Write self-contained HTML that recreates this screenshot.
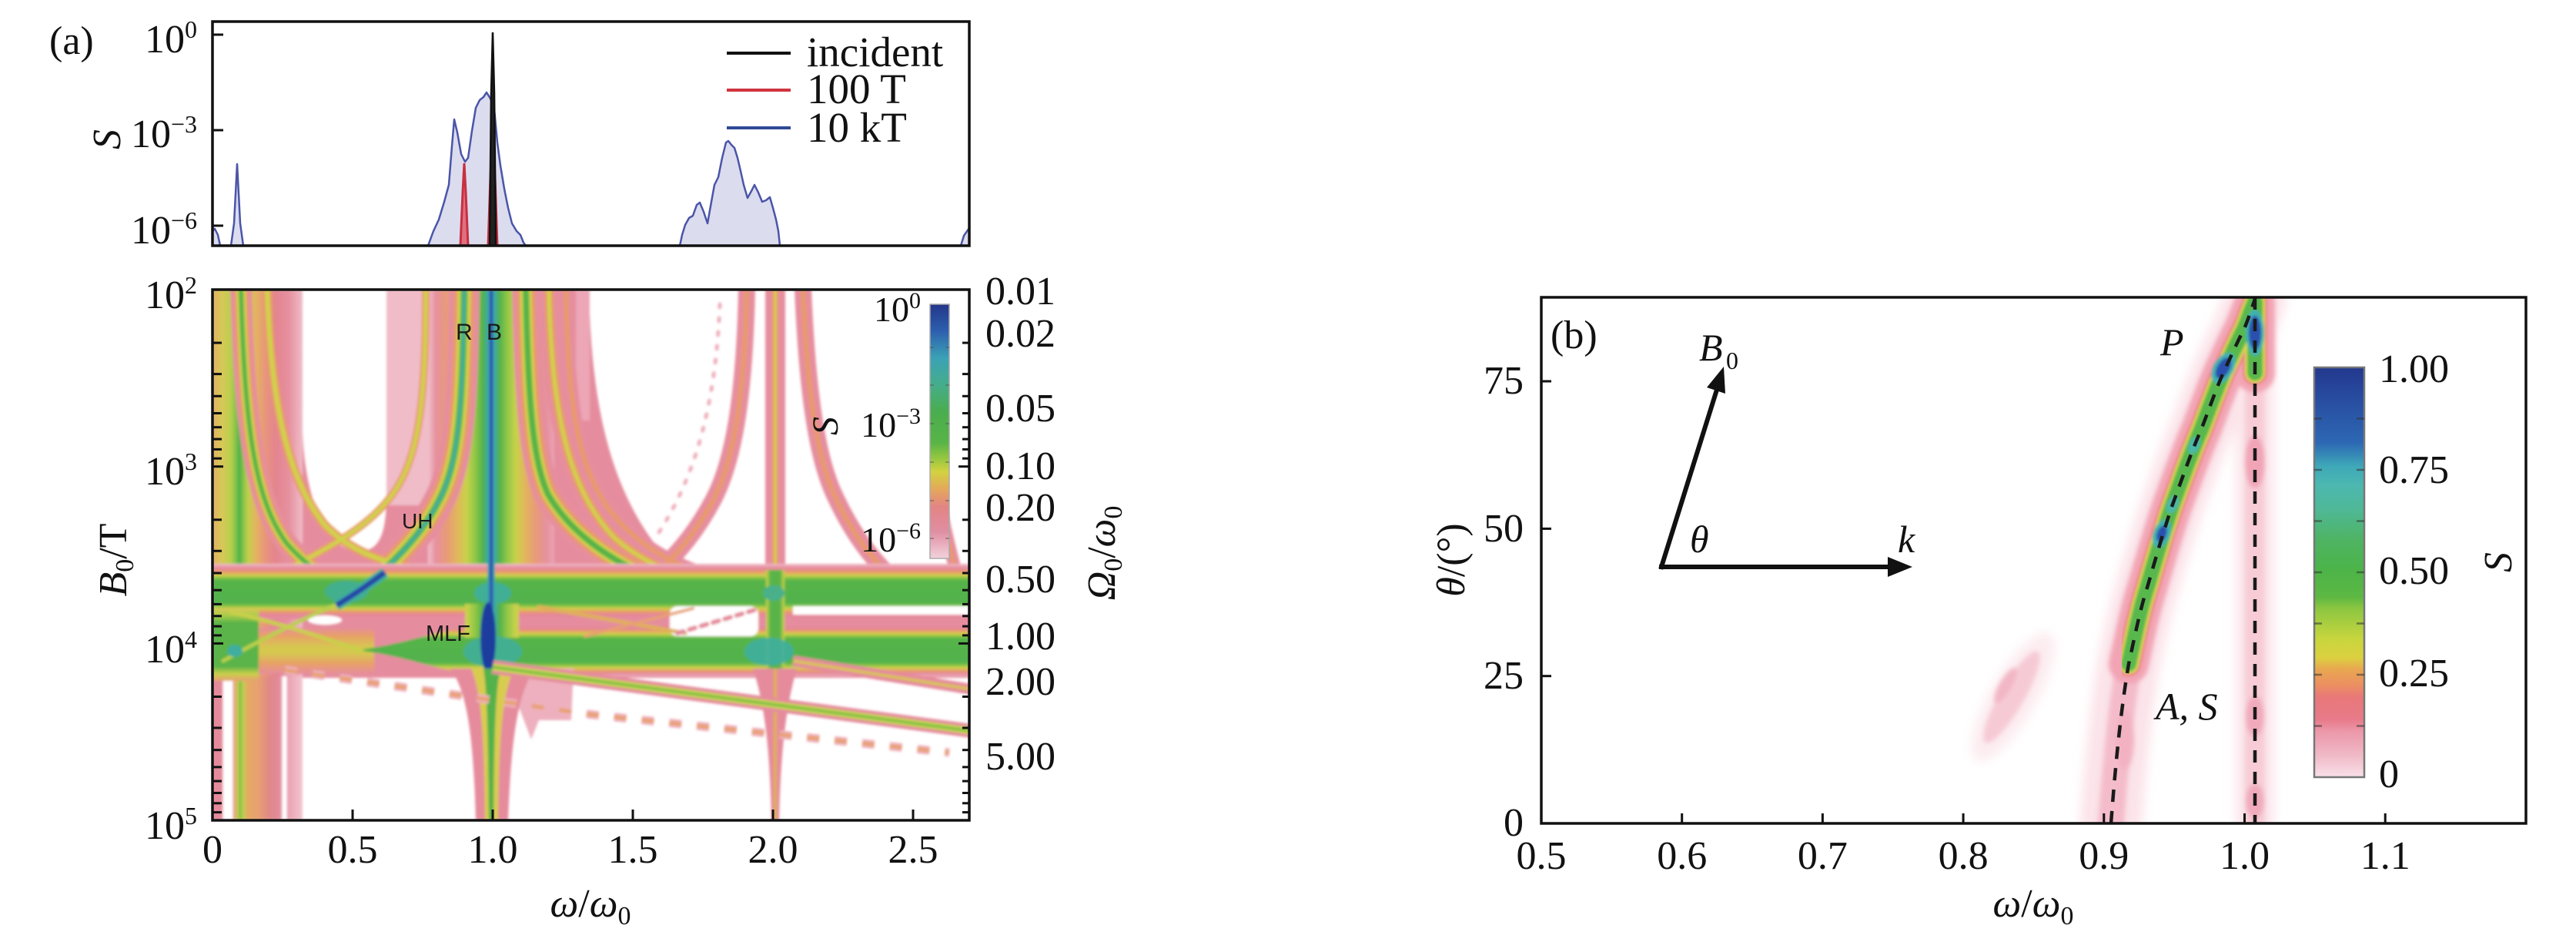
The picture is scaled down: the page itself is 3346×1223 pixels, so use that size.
<!DOCTYPE html>
<html><head><meta charset="utf-8">
<style>
html,body{margin:0;padding:0;background:#fff;width:3346px;height:1223px;overflow:hidden}
svg{display:block}
text{font-family:"Liberation Serif","DejaVu Serif",serif;fill:#111}
.s{font-family:"Liberation Sans","DejaVu Sans",sans-serif;fill:#1a1a1a}
.i{font-style:italic}
</style></head><body>
<svg width="3346" height="1223" viewBox="0 0 3346 1223" xmlns="http://www.w3.org/2000/svg">
<defs>
<clipPath id="ca"><rect x="276" y="376" width="983" height="689"/></clipPath>
<clipPath id="ct"><rect x="276" y="28" width="983" height="291"/></clipPath>
<clipPath id="cb"><rect x="2002" y="386" width="1279" height="683"/></clipPath>
<filter id="bl1" x="-5%" y="-5%" width="110%" height="110%"><feGaussianBlur stdDeviation="1.6"/></filter>
<filter id="bl3" x="-10%" y="-10%" width="120%" height="120%"><feGaussianBlur stdDeviation="3"/></filter>
<filter id="bl6" x="-20%" y="-20%" width="140%" height="140%"><feGaussianBlur stdDeviation="7"/></filter>

<linearGradient id="gLeft" gradientUnits="userSpaceOnUse" x1="276" y1="0" x2="393" y2="0">
<stop offset="0" stop-color="#e2b062"/><stop offset=".103" stop-color="#d8c858"/><stop offset=".205" stop-color="#b8d04c"/><stop offset=".265" stop-color="#7cc048"/><stop offset=".299" stop-color="#4cb04a"/><stop offset=".333" stop-color="#7cc048"/><stop offset=".393" stop-color="#c0d04c"/><stop offset=".479" stop-color="#e4b45e"/><stop offset=".59" stop-color="#e8947c"/><stop offset=".701" stop-color="#e3848f"/><stop offset=".846" stop-color="#e6909f"/><stop offset="1" stop-color="#f0bcc8"/>
</linearGradient>
<linearGradient id="gLeftB" gradientUnits="userSpaceOnUse" x1="276" y1="0" x2="393" y2="0">
<stop offset="0" stop-color="#e48a9a"/><stop offset=".111" stop-color="#e48a9a"/><stop offset=".12" stop-color="#fff"/><stop offset=".222" stop-color="#fff"/><stop offset=".231" stop-color="#e8909c"/><stop offset=".256" stop-color="#e0b860"/><stop offset=".291" stop-color="#b8cc50"/><stop offset=".308" stop-color="#6cbc48"/><stop offset=".333" stop-color="#c0d04c"/><stop offset=".393" stop-color="#e4aa64"/><stop offset=".504" stop-color="#e8a070"/><stop offset=".632" stop-color="#e08888"/><stop offset=".735" stop-color="#e28a9a"/><stop offset=".769" stop-color="#e8a0ae"/><stop offset=".778" stop-color="#fff"/><stop offset=".821" stop-color="#fff"/><stop offset=".829" stop-color="#eaa0b0"/><stop offset="1" stop-color="#f2c6d0"/>
</linearGradient>
<linearGradient id="gOne" gradientUnits="userSpaceOnUse" x1="556" y1="0" x2="720" y2="0">
<stop offset="0" stop-color="#f0c0cb"/><stop offset=".061" stop-color="#e6909f"/><stop offset=".146" stop-color="#e89a78"/><stop offset=".238" stop-color="#e0b85a"/><stop offset=".305" stop-color="#c8d24a"/><stop offset=".378" stop-color="#8cc646"/><stop offset=".433" stop-color="#52b24c"/><stop offset=".47" stop-color="#40ac9c"/><stop offset=".5" stop-color="#3a9ab8"/><stop offset=".53" stop-color="#40ac9c"/><stop offset=".567" stop-color="#52b24c"/><stop offset=".622" stop-color="#8cc646"/><stop offset=".695" stop-color="#c8d24a"/><stop offset=".762" stop-color="#e0b85a"/><stop offset=".854" stop-color="#e89a78"/><stop offset=".939" stop-color="#e6909f"/><stop offset="1" stop-color="#eaa4b2"/>
</linearGradient>
<linearGradient id="gH1" gradientUnits="userSpaceOnUse" x1="0" y1="732" x2="0" y2="804">
<stop offset="0" stop-color="#f0bcc8"/><stop offset=".083" stop-color="#e4869a"/><stop offset=".153" stop-color="#e89c68"/><stop offset=".208" stop-color="#d2d24a"/><stop offset=".25" stop-color="#8cc445"/><stop offset=".306" stop-color="#55b44a"/><stop offset=".708" stop-color="#52b24c"/><stop offset=".764" stop-color="#8cc445"/><stop offset=".806" stop-color="#d2d24a"/><stop offset=".861" stop-color="#e89c68"/><stop offset=".917" stop-color="#e4869a"/><stop offset="1" stop-color="#e58d9e"/>
</linearGradient>
<linearGradient id="gH2" gradientUnits="userSpaceOnUse" x1="0" y1="812" x2="0" y2="878">
<stop offset="0" stop-color="#e58d9e"/><stop offset=".061" stop-color="#e4869a"/><stop offset=".106" stop-color="#e89c68"/><stop offset=".167" stop-color="#d2d24a"/><stop offset=".212" stop-color="#8cc445"/><stop offset=".258" stop-color="#55b44a"/><stop offset=".727" stop-color="#52b24c"/><stop offset=".788" stop-color="#8cc445"/><stop offset=".833" stop-color="#d2d24a"/><stop offset=".894" stop-color="#e89c68"/><stop offset=".939" stop-color="#e4869a"/><stop offset="1" stop-color="#eeb0bc"/>
</linearGradient>
<linearGradient id="gH2L" gradientUnits="userSpaceOnUse" x1="0" y1="790" x2="0" y2="884">
<stop offset="0" stop-color="#d8c858"/><stop offset=".1" stop-color="#a8cc48"/><stop offset=".2" stop-color="#5ab44a"/><stop offset=".8" stop-color="#5ab44a"/><stop offset=".9" stop-color="#c8d04a"/><stop offset="1" stop-color="#e8a070"/>
</linearGradient>
<linearGradient id="gH2O" gradientUnits="userSpaceOnUse" x1="0" y1="815" x2="0" y2="875">
<stop offset="0" stop-color="#e58d9e"/><stop offset=".17" stop-color="#e8a068"/><stop offset=".42" stop-color="#d6c850"/><stop offset=".55" stop-color="#d6c850"/><stop offset=".78" stop-color="#e8a068"/><stop offset="1" stop-color="#e58d9e"/>
</linearGradient>
<linearGradient id="gTwo" gradientUnits="userSpaceOnUse" x1="995" y1="0" x2="1019" y2="0">
<stop offset="0" stop-color="#d2d24a"/><stop offset=".25" stop-color="#58b44a"/><stop offset=".75" stop-color="#58b44a"/><stop offset="1" stop-color="#d2d24a"/>
</linearGradient>
<linearGradient id="cbA" gradientUnits="userSpaceOnUse" x1="0" y1="395" x2="0" y2="725">
<stop offset="0" stop-color="#23368a"/><stop offset=".106" stop-color="#2d5fae"/><stop offset=".212" stop-color="#3aa2b6"/><stop offset=".318" stop-color="#45ad8a"/><stop offset=".424" stop-color="#4aad4e"/><stop offset=".545" stop-color="#58b446"/><stop offset=".612" stop-color="#9cc840"/><stop offset=".658" stop-color="#d2d240"/><stop offset=".727" stop-color="#e4a85a"/><stop offset=".797" stop-color="#e38484"/><stop offset=".894" stop-color="#e08ea2"/><stop offset="1" stop-color="#f2d2dc"/>
</linearGradient>
<linearGradient id="cbB" gradientUnits="userSpaceOnUse" x1="0" y1="477" x2="0" y2="1009">
<stop offset="0" stop-color="#22388c"/><stop offset=".045" stop-color="#26449a"/><stop offset=".184" stop-color="#2d68b4"/><stop offset=".241" stop-color="#3ea8b8"/><stop offset=".288" stop-color="#4cb8b0"/><stop offset=".344" stop-color="#4fb898"/><stop offset=".419" stop-color="#4eb464"/><stop offset=".494" stop-color="#4cb448"/><stop offset=".56" stop-color="#5cb843"/><stop offset=".588" stop-color="#8cc640"/><stop offset=".664" stop-color="#c8d63e"/><stop offset=".709" stop-color="#dcd040"/><stop offset=".735" stop-color="#e8a850"/><stop offset=".773" stop-color="#ec9060"/><stop offset=".805" stop-color="#e87878"/><stop offset=".859" stop-color="#e87a8a"/><stop offset=".889" stop-color="#ec98aa"/><stop offset=".945" stop-color="#f0b8c6"/><stop offset="1" stop-color="#f8e0e8"/>
</linearGradient>

<path id="cUH" fill="none" d="M603,376 C601,520 597,600 570,650 C545,700 490,755 437,785"/>
<path id="cM" fill="none" d="M683,376 C686,520 692,600 712,642 C740,690 790,728 860,756"/>
<path id="cL1" fill="none" d="M313,376 C318,560 332,650 372,705 C398,735 425,752 460,770"/>
<path id="cL2" fill="none" d="M347,376 C352,520 372,620 422,682 C452,712 485,726 530,736"/>
<path id="cU1" fill="none" d="M553,376 C553,520 545,600 505,648 C480,680 440,705 380,735"/>
<path id="cR1" fill="none" d="M713,376 C716,540 740,640 800,700 C830,725 860,740 900,752"/>
<path id="cR2" fill="none" d="M735,376 C738,520 748,600 790,660 C820,700 860,725 900,740"/>
<path id="cW2L" fill="none" d="M970,376 C967,520 952,600 927,648 C905,690 880,720 843,754"/>
<path id="cW2R" fill="none" d="M1043,376 C1049,520 1063,600 1085,645 C1105,688 1130,725 1165,756"/>
<path id="cW2C" fill="none" d="M1007,376 L1007,750"/>
<path id="cEdge" fill="none" d="M1222,660 C1235,720 1248,770 1262,808"/>
<path id="cD1" fill="none" d="M640,866 L1007,915 L1262,949"/>
<path id="cD2" fill="none" d="M1030,858 L1262,895"/>

<path id="pb" fill="none" d="M2742,1069 C2748,990 2755,920 2765,862 C2772,830 2780,790 2789,763 C2800,725 2810,690 2822,655 C2835,620 2845,590 2859,558 C2870,530 2880,500 2892,475 C2900,458 2908,440 2915,427 C2920,415 2925,400 2929,388"/>
<path id="pbu" fill="none" d="M2765,862 C2772,830 2780,790 2789,763 C2800,725 2810,690 2822,655 C2835,620 2845,590 2859,558 C2870,530 2880,500 2892,475 C2900,458 2908,440 2915,427 C2920,415 2925,400 2929,392"/>
<path id="prt" fill="none" d="M2929,394 L2929,484"/>
</defs>

<!-- ================= PANEL A : TOP ================= -->
<g clip-path="url(#ct)">
<path d="M276,319 L276,300 L279,297 L283,305 L286,319 L300,319 L304,290 L308,213 L312,290 L316,319 L556,319 L563,300 L570,285 L577,262 L583,240 L587,190 L590,155 L594,172 L599,200 L604,210 L608,205 L613,170 L618,140 L623,130 L628,126 L632,120 L637,128 L642,142 L646,185 L650,215 L655,245 L660,270 L665,290 L671,300 L676,305 L680,315 L683,319 L883,319 L886,305 L890,292 L895,283 L900,280 L905,266 L909,263 L914,275 L919,290 L924,262 L928,240 L933,230 L938,205 L943,185 L946,183 L950,188 L954,192 L958,205 L962,222 L966,240 L971,257 L976,248 L980,240 L985,250 L990,262 L995,260 L1000,256 L1004,270 L1008,285 L1011,300 L1013,319 L1248,319 L1252,306 L1259,296 L1259,319 Z" fill="#dcdcef" stroke="#4a55a8" stroke-width="2.5" stroke-linejoin="round"/>
<path d="M598,319 L601,250 L603,212 L605,250 L608,319 Z" fill="#e07080" stroke="#c83040" stroke-width="3"/>
<path d="M634,319 L637,230 L640,163 L643,230 L646,319 Z" fill="#e07080" stroke="#c83040" stroke-width="3"/>
<path d="M636,319 L638,120 L640,42 L642,120 L644,319 Z" fill="#222" stroke="#111" stroke-width="2.5"/>
</g>
<rect x="276" y="28" width="983" height="291" fill="none" stroke="#111" stroke-width="3.5"/>
<g stroke="#111" stroke-width="3">
<line x1="276" y1="45" x2="290" y2="45"/><line x1="276" y1="169" x2="290" y2="169"/><line x1="276" y1="293" x2="290" y2="293"/>
</g>
<text x="64" y="70" font-size="52">(a)</text>
<text x="256" y="68" font-size="52" text-anchor="end">10<tspan font-size="32" dy="-19">0</tspan></text>
<text x="256" y="191" font-size="52" text-anchor="end">10<tspan font-size="32" dy="-19">−3</tspan></text>
<text x="256" y="316" font-size="52" text-anchor="end">10<tspan font-size="32" dy="-19">−6</tspan></text>
<text transform="translate(156,181) rotate(-90)" font-size="52" text-anchor="middle" class="i">S</text>
<!-- legend -->
<line x1="944" y1="69" x2="1027" y2="69" stroke="#111" stroke-width="4"/>
<line x1="944" y1="117" x2="1027" y2="117" stroke="#d0343f" stroke-width="4"/>
<line x1="944" y1="166" x2="1027" y2="166" stroke="#2f4a96" stroke-width="4"/>
<text x="1048" y="86" font-size="55">incident</text>
<text x="1048" y="134" font-size="55">100 T</text>
<text x="1048" y="184" font-size="55">10 kT</text>

<!-- ================= PANEL A : HEATMAP ================= -->
<g clip-path="url(#ca)"><g filter="url(#bl1)">
<path d="M276,376 L393,376 L393,560 C396,650 425,714 465,716 C495,716 502,690 502,640 L502,376 L765,376 C768,520 790,650 880,740 L1262,740 L1262,880 L276,880 Z" fill="#e58d9e"/>
<rect x="502" y="376" width="58" height="280" fill="#f0bcc8"/>
<rect x="748" y="376" width="18" height="170" fill="#eca6b6"/>
<rect x="276" y="376" width="117" height="504" fill="url(#gLeft)"/>
<rect x="276" y="878" width="117" height="187" fill="url(#gLeftB)"/>
<rect x="556" y="376" width="164" height="380" fill="url(#gOne)"/>
<g fill="none" stroke-linecap="round">
<use href="#cUH" stroke="#e68e9e" stroke-width="40"/>
<use href="#cM" stroke="#e68e9e" stroke-width="36"/>
<use href="#cL1" stroke="#e68e9e" stroke-width="28"/>
<use href="#cR1" stroke="#e68e9e" stroke-width="24"/>
<use href="#cR2" stroke="#e68e9e" stroke-width="18"/>
<use href="#cW2L" stroke="#e68e9e" stroke-width="22"/>
<use href="#cW2R" stroke="#e68e9e" stroke-width="22"/>
<use href="#cW2C" stroke="#e68e9e" stroke-width="26"/>
<use href="#cEdge" stroke="#e68e9e" stroke-width="16"/>
<use href="#cUH" stroke="#e89a6a" stroke-width="26"/>
<use href="#cM" stroke="#e89a6a" stroke-width="24"/>
<use href="#cL1" stroke="#e89a6a" stroke-width="18"/>
<use href="#cL2" stroke="#e89a6a" stroke-width="12"/>
<use href="#cU1" stroke="#e89a6a" stroke-width="10"/>
<use href="#cR1" stroke="#e89a6a" stroke-width="12"/>
<use href="#cR2" stroke="#e89a6a" stroke-width="6"/>
<use href="#cW2L" stroke="#e89a6a" stroke-width="6"/>
<use href="#cW2R" stroke="#e89a6a" stroke-width="6"/>
<use href="#cW2C" stroke="#e89a6a" stroke-width="8"/>
<use href="#cEdge" stroke="#e89a6a" stroke-width="5"/>
<use href="#cUH" stroke="#d0d24a" stroke-width="17"/>
<use href="#cM" stroke="#d0d24a" stroke-width="15"/>
<use href="#cL1" stroke="#d0d24a" stroke-width="12"/>
<use href="#cL2" stroke="#d0d24a" stroke-width="6"/>
<use href="#cU1" stroke="#d0d24a" stroke-width="5"/>
<use href="#cR1" stroke="#d0d24a" stroke-width="5"/>
<use href="#cW2C" stroke="#d0d24a" stroke-width="3"/>
<use href="#cUH" stroke="#56b44a" stroke-width="9"/>
<use href="#cM" stroke="#56b44a" stroke-width="8"/>
<use href="#cL1" stroke="#56b44a" stroke-width="6"/>
<use href="#cUH" stroke="#3fae9e" stroke-width="4"/>
<path d="M935,395 C930,520 905,620 850,700" stroke="#eeb0bc" stroke-width="5" stroke-dasharray="4 14"/>
</g>
<!-- bands -->
<rect x="276" y="732" width="986" height="72" fill="url(#gH1)"/>
<rect x="336" y="815" width="150" height="60" fill="url(#gH2O)"/>
<path d="M462,844 C520,838 570,818 620,812 L1262,812 L1262,878 L620,878 C570,870 520,850 462,844 Z" fill="url(#gH2)"/>
<rect x="276" y="790" width="60" height="94" fill="url(#gH2L)"/>
<rect x="870" y="787" width="115" height="39" rx="10" fill="#fff"/>
<rect x="1030" y="787" width="232" height="11" fill="#fff"/>
<ellipse cx="422" cy="805" rx="22" ry="6" fill="#fff"/>
<g fill="none" stroke-linecap="round">
<path d="M290,858 C340,830 400,800 440,784" stroke="#b8d04c" stroke-width="5"/>
<path d="M300,795 C360,808 420,828 470,845" stroke="#c8d04a" stroke-width="5"/>
<path d="M700,788 L890,822" stroke="#e0b058" stroke-width="5"/>
<path d="M760,826 L900,790" stroke="#e8a070" stroke-width="4"/>
<path d="M880,822 L980,792" stroke="#e58b9c" stroke-width="6" stroke-dasharray="8 8"/>
</g>
<rect x="604" y="784" width="70" height="44" fill="url(#gOne)"/>
<rect x="995" y="740" width="24" height="140" fill="url(#gTwo)"/>
<ellipse cx="450" cy="768" rx="28" ry="14" fill="#3fae9e" opacity=".8"/>
<ellipse cx="640" cy="770" rx="24" ry="14" fill="#3fae9e" opacity=".9"/>
<ellipse cx="1005" cy="770" rx="14" ry="10" fill="#4ab08a"/>
<ellipse cx="999" cy="846" rx="32" ry="18" fill="#3fae9e" opacity=".9"/>
<ellipse cx="305" cy="845" rx="10" ry="8" fill="#3fae9e"/>
<ellipse cx="640" cy="846" rx="38" ry="20" fill="#3fae9e" opacity=".85"/>
<path d="M638,376 L638,820" stroke="#3aa8a8" stroke-width="10"/>
<path d="M638,376 L638,820" stroke="#2d58b2" stroke-width="5"/>
<ellipse cx="634" cy="828" rx="10" ry="46" fill="#1f3c9e"/>
<path d="M500,743 C480,758 460,772 437,786" stroke="#3fae9e" stroke-width="14" fill="none"/>
<path d="M500,743 C480,758 460,772 437,786" stroke="#2646a6" stroke-width="7" fill="none"/>
<!-- below bands -->
<path d="M655,868 L745,868 L742,935 L700,935 L690,960 Z" fill="#eeb0be"/>
<path d="M585,868 L695,868 C672,900 664,960 660,1065 L618,1065 C615,960 608,900 585,868 Z" fill="#e58b9c"/>
<path d="M612,868 L668,868 C652,900 648,960 647,1065 L630,1065 C629,960 626,900 612,868 Z" fill="#d8cc50"/>
<path d="M628,868 L650,868 C643,900 642,960 641,1065 L635,1065 C634,960 633,900 628,868 Z" fill="#52b24c"/>
<path d="M978,868 L1035,868 C1020,920 1014,980 1012,1065 L1002,1065 C1000,980 995,920 978,868 Z" fill="#e58b9c"/>
<path d="M1007,868 L1007,1065" stroke="#e0b050" stroke-width="4"/>
<g fill="none">
<use href="#cD1" stroke="#e58b9c" stroke-width="18"/>
<use href="#cD1" stroke="#c8d44a" stroke-width="9"/>
<use href="#cD1" stroke="#6cbc48" stroke-width="3"/>
<use href="#cD2" stroke="#e58b9c" stroke-width="14"/>
<use href="#cD2" stroke="#d8c450" stroke-width="4"/>
<path d="M370,870 L770,928 L1233,977" stroke="#eeb0bc" stroke-width="11" stroke-dasharray="16 20"/>
<path d="M370,870 L770,928 L1233,977" stroke="#e8a070" stroke-width="5" stroke-dasharray="16 20"/>
</g>
</g>
<text x="592" y="441" font-size="30" class="s">R</text>
<text x="632" y="441" font-size="30" class="s">B</text>
<text x="522" y="686" font-size="28" class="s">UH</text>
<text x="553" y="832" font-size="29" class="s">MLF</text>
</g>
<!-- colorbar a -->
<rect x="1208" y="395" width="25" height="330" fill="url(#cbA)" stroke="#aaa" stroke-width="1.5"/>
<g stroke="#555" stroke-width="1.5" opacity=".6">
<line x1="1208" y1="451" x2="1213" y2="451"/><line x1="1228" y1="451" x2="1233" y2="451"/>
<line x1="1208" y1="500" x2="1213" y2="500"/><line x1="1228" y1="500" x2="1233" y2="500"/>
<line x1="1208" y1="550" x2="1213" y2="550"/><line x1="1228" y1="550" x2="1233" y2="550"/>
<line x1="1208" y1="600" x2="1213" y2="600"/><line x1="1228" y1="600" x2="1233" y2="600"/>
<line x1="1208" y1="650" x2="1213" y2="650"/><line x1="1228" y1="650" x2="1233" y2="650"/>
<line x1="1208" y1="699" x2="1213" y2="699"/><line x1="1228" y1="699" x2="1233" y2="699"/>
</g>
<text x="1196" y="417" font-size="46" text-anchor="end">10<tspan font-size="30" dy="-17">0</tspan></text>
<text x="1196" y="567" font-size="46" text-anchor="end">10<tspan font-size="30" dy="-17">−3</tspan></text>
<text x="1196" y="716" font-size="46" text-anchor="end">10<tspan font-size="30" dy="-17">−6</tspan></text>
<text transform="translate(1088,553) rotate(-90)" font-size="48" text-anchor="middle" class="i">S</text>

<!-- axes a bottom -->
<rect x="276" y="376" width="983" height="689" fill="none" stroke="#111" stroke-width="3.5"/>
<g stroke="#111" stroke-width="3">
<line x1="276" y1="605.7" x2="290" y2="605.7"/><line x1="276" y1="835.4" x2="290" y2="835.4"/>
<line x1="276" y1="445.1" x2="288" y2="445.1"/><line x1="276" y1="485.6" x2="288" y2="485.6"/><line x1="276" y1="514.3" x2="288" y2="514.3"/><line x1="276" y1="536.5" x2="288" y2="536.5"/><line x1="276" y1="554.7" x2="288" y2="554.7"/><line x1="276" y1="570.1" x2="288" y2="570.1"/><line x1="276" y1="583.4" x2="288" y2="583.4"/><line x1="276" y1="595.2" x2="288" y2="595.2"/>
<line x1="276" y1="674.8" x2="288" y2="674.8"/><line x1="276" y1="715.3" x2="288" y2="715.3"/><line x1="276" y1="744" x2="288" y2="744"/><line x1="276" y1="766.2" x2="288" y2="766.2"/><line x1="276" y1="784.4" x2="288" y2="784.4"/><line x1="276" y1="799.8" x2="288" y2="799.8"/><line x1="276" y1="813.1" x2="288" y2="813.1"/><line x1="276" y1="824.9" x2="288" y2="824.9"/>
<line x1="276" y1="904.5" x2="288" y2="904.5"/><line x1="276" y1="945" x2="288" y2="945"/><line x1="276" y1="973.7" x2="288" y2="973.7"/><line x1="276" y1="995.9" x2="288" y2="995.9"/><line x1="276" y1="1014.1" x2="288" y2="1014.1"/><line x1="276" y1="1029.5" x2="288" y2="1029.5"/><line x1="276" y1="1042.8" x2="288" y2="1042.8"/><line x1="276" y1="1054.6" x2="288" y2="1054.6"/>
<line x1="1259" y1="605.7" x2="1245" y2="605.7"/><line x1="1259" y1="835.4" x2="1245" y2="835.4"/>
<line x1="1259" y1="445.1" x2="1250" y2="445.1"/><line x1="1259" y1="485.6" x2="1250" y2="485.6"/><line x1="1259" y1="514.3" x2="1250" y2="514.3"/><line x1="1259" y1="536.5" x2="1250" y2="536.5"/><line x1="1259" y1="554.7" x2="1250" y2="554.7"/><line x1="1259" y1="570.1" x2="1250" y2="570.1"/><line x1="1259" y1="583.4" x2="1250" y2="583.4"/><line x1="1259" y1="595.2" x2="1250" y2="595.2"/>
<line x1="1259" y1="674.8" x2="1250" y2="674.8"/><line x1="1259" y1="715.3" x2="1250" y2="715.3"/><line x1="1259" y1="744" x2="1250" y2="744"/><line x1="1259" y1="766.2" x2="1250" y2="766.2"/><line x1="1259" y1="784.4" x2="1250" y2="784.4"/><line x1="1259" y1="799.8" x2="1250" y2="799.8"/><line x1="1259" y1="813.1" x2="1250" y2="813.1"/><line x1="1259" y1="824.9" x2="1250" y2="824.9"/>
<line x1="1259" y1="904.5" x2="1250" y2="904.5"/><line x1="1259" y1="945" x2="1250" y2="945"/><line x1="1259" y1="973.7" x2="1250" y2="973.7"/><line x1="1259" y1="995.9" x2="1250" y2="995.9"/><line x1="1259" y1="1014.1" x2="1250" y2="1014.1"/><line x1="1259" y1="1029.5" x2="1250" y2="1029.5"/><line x1="1259" y1="1042.8" x2="1250" y2="1042.8"/><line x1="1259" y1="1054.6" x2="1250" y2="1054.6"/>
<line x1="458" y1="1065" x2="458" y2="1051"/><line x1="640" y1="1065" x2="640" y2="1051"/><line x1="822" y1="1065" x2="822" y2="1051"/><line x1="1004" y1="1065" x2="1004" y2="1051"/><line x1="1186" y1="1065" x2="1186" y2="1051"/>
</g>
<text x="256" y="400" font-size="52" text-anchor="end">10<tspan font-size="32" dy="-19">2</tspan></text>
<text x="256" y="629" font-size="52" text-anchor="end">10<tspan font-size="32" dy="-19">3</tspan></text>
<text x="256" y="860" font-size="52" text-anchor="end">10<tspan font-size="32" dy="-19">4</tspan></text>
<text x="256" y="1089" font-size="52" text-anchor="end">10<tspan font-size="32" dy="-19">5</tspan></text>
<g font-size="52" text-anchor="middle">
<text x="276" y="1120">0</text><text x="458" y="1120">0.5</text><text x="640" y="1120">1.0</text><text x="822" y="1120">1.5</text><text x="1004" y="1120">2.0</text><text x="1186" y="1120">2.5</text>
</g>
<text x="767" y="1190" font-size="52" text-anchor="middle"><tspan class="i">ω</tspan>/<tspan class="i">ω</tspan><tspan font-size="34" dy="10">0</tspan></text>
<text transform="translate(164,727) rotate(-90)" font-size="52" text-anchor="middle"><tspan class="i">B</tspan><tspan font-size="34" dy="9">0</tspan><tspan dy="-9">/T</tspan></text>
<g font-size="52">
<text x="1280" y="395">0.01</text><text x="1280" y="450">0.02</text><text x="1280" y="547">0.05</text><text x="1280" y="622">0.10</text><text x="1280" y="676">0.20</text><text x="1280" y="769">0.50</text><text x="1280" y="843">1.00</text><text x="1280" y="902">2.00</text><text x="1280" y="999">5.00</text>
</g>
<text transform="translate(1448,718) rotate(-90)" font-size="52" text-anchor="middle"><tspan class="i">Ω</tspan><tspan font-size="34" dy="9">0</tspan><tspan dy="-9">/</tspan><tspan class="i">ω</tspan><tspan font-size="34" dy="9">0</tspan></text>

<!-- ================= PANEL B ================= -->
<g clip-path="url(#cb)">
<g filter="url(#bl6)" fill="none" stroke-linecap="round">
<use href="#pb" stroke="#fbe3e9" stroke-width="80"/>
<path d="M2929,386 L2929,1069" stroke="#fbe6eb" stroke-width="50"/>
<ellipse cx="2615" cy="905" rx="30" ry="95" transform="rotate(30 2615 905)" fill="#fcecf0" stroke="none"/>
</g>
<g filter="url(#bl3)" fill="none" stroke-linecap="round">
<use href="#pb" stroke="#f4bccb" stroke-width="34"/>
<path d="M2929,386 L2929,1069" stroke="#f7ccd6" stroke-width="26"/>
<ellipse cx="2929" cy="600" rx="13" ry="34" fill="#f0a4b6" stroke="none"/>
<ellipse cx="2929" cy="930" rx="12" ry="26" fill="#f0aabb" stroke="none"/>
<ellipse cx="2929" cy="1040" rx="12" ry="22" fill="#f0aabb" stroke="none"/>
<ellipse cx="2760" cy="960" rx="12" ry="40" fill="#f2b2c2" stroke="none"/>
<ellipse cx="2613" cy="905" rx="16" ry="68" transform="rotate(30 2613 905)" fill="#f6cad5" stroke="none"/>
<ellipse cx="2605" cy="890" rx="8" ry="26" transform="rotate(30 2605 890)" fill="#f2b6c4" stroke="none"/>
<use href="#pbu" stroke="#f2a4b4" stroke-width="52"/>
<use href="#prt" stroke="#f2a4b4" stroke-width="52"/>
</g>
<g filter="url(#bl1)" fill="none" stroke-linecap="round">
<use href="#pbu" stroke="#ec8484" stroke-width="32"/>
<use href="#prt" stroke="#ec8484" stroke-width="32"/>
<use href="#pbu" stroke="#d4d84a" stroke-width="26"/>
<use href="#prt" stroke="#d4d84a" stroke-width="26"/>
<use href="#pbu" stroke="#58b84e" stroke-width="20"/>
<use href="#prt" stroke="#58b84e" stroke-width="20"/>
<ellipse cx="2888" cy="478" rx="13" ry="22" transform="rotate(30 2888 478)" fill="#3fb0b0" stroke="none"/>
<ellipse cx="2888" cy="478" rx="8" ry="15" transform="rotate(30 2888 478)" fill="#2a4fae" stroke="none"/>
<ellipse cx="2808" cy="693" rx="11" ry="19" transform="rotate(20 2808 693)" fill="#3fb0b0" stroke="none"/>
<ellipse cx="2808" cy="693" rx="6" ry="11" transform="rotate(20 2808 693)" fill="#2a4fae" stroke="none"/>
<ellipse cx="2929" cy="432" rx="12" ry="30" fill="#3fb0b0" stroke="none"/>
<ellipse cx="2929" cy="432" rx="8" ry="22" fill="#2a4fae" stroke="none"/>
<ellipse cx="2850" cy="578" rx="7" ry="12" transform="rotate(25 2850 578)" fill="#4cb8a8" stroke="none"/>
<ellipse cx="2822" cy="655" rx="7" ry="12" transform="rotate(25 2822 655)" fill="#4cb8a8" stroke="none"/>
</g>
<g fill="none" stroke="#1a1a1a" stroke-width="4.5" stroke-dasharray="16 12">
<use href="#pb"/>
<path d="M2929,386 L2929,1069"/>
</g>
</g>
<rect x="2002" y="386" width="1279" height="683" fill="none" stroke="#111" stroke-width="3.5"/>
<g stroke="#111" stroke-width="3">
<line x1="2002" y1="877.7" x2="2015" y2="877.7"/><line x1="2002" y1="686.4" x2="2015" y2="686.4"/><line x1="2002" y1="495" x2="2015" y2="495"/>
<line x1="2184.7" y1="1069" x2="2184.7" y2="1056"/><line x1="2367.4" y1="1069" x2="2367.4" y2="1056"/><line x1="2550.1" y1="1069" x2="2550.1" y2="1056"/><line x1="2732.8" y1="1069" x2="2732.8" y2="1056"/><line x1="2915.5" y1="1069" x2="2915.5" y2="1056"/><line x1="3098.2" y1="1069" x2="3098.2" y2="1056"/>
</g>
<g font-size="52" text-anchor="end">
<text x="1979" y="1085">0</text><text x="1979" y="894">25</text><text x="1979" y="703">50</text><text x="1979" y="511">75</text>
</g>
<g font-size="52" text-anchor="middle">
<text x="2002" y="1128">0.5</text><text x="2184.7" y="1128">0.6</text><text x="2367.4" y="1128">0.7</text><text x="2550.1" y="1128">0.8</text><text x="2732.8" y="1128">0.9</text><text x="2915.5" y="1128">1.0</text><text x="3098.2" y="1128">1.1</text>
</g>
<text x="2641" y="1190" font-size="52" text-anchor="middle"><tspan class="i">ω</tspan>/<tspan class="i">ω</tspan><tspan font-size="34" dy="10">0</tspan></text>
<text transform="translate(1902,727) rotate(-90)" font-size="52" text-anchor="middle"><tspan class="i">θ</tspan>/(°)</text>
<text x="2014" y="452" font-size="52">(b)</text>
<!-- arrows -->
<g stroke="#111" stroke-width="6" stroke-linecap="square">
<line x1="2158" y1="736" x2="2230" y2="506"/>
<line x1="2158" y1="736" x2="2456" y2="736"/>
</g>
<polygon points="2239,476 2241,511 2217,503" fill="#111"/>
<polygon points="2484,736 2452,723 2452,749" fill="#111"/>
<text x="2207" y="468" font-size="50" class="i">B</text><text x="2242" y="479" font-size="32">0</text>
<text x="2195" y="717" font-size="50" class="i">θ</text>
<text x="2465" y="717" font-size="50" class="i">k</text>
<text x="2806" y="461" font-size="50" class="i">P</text>
<text x="2800" y="934" font-size="50" class="i">A, S</text>
<!-- colorbar b -->
<rect x="3006" y="477" width="65" height="532" fill="url(#cbB)" stroke="#777" stroke-width="2.5"/>
<g stroke="#333" stroke-width="2.5" opacity=".55">
<line x1="3006" y1="543.5" x2="3016" y2="543.5"/><line x1="3061" y1="543.5" x2="3071" y2="543.5"/>
<line x1="3006" y1="610" x2="3016" y2="610"/><line x1="3061" y1="610" x2="3071" y2="610"/>
<line x1="3006" y1="676.5" x2="3016" y2="676.5"/><line x1="3061" y1="676.5" x2="3071" y2="676.5"/>
<line x1="3006" y1="743" x2="3016" y2="743"/><line x1="3061" y1="743" x2="3071" y2="743"/>
<line x1="3006" y1="809.5" x2="3016" y2="809.5"/><line x1="3061" y1="809.5" x2="3071" y2="809.5"/>
<line x1="3006" y1="876" x2="3016" y2="876"/><line x1="3061" y1="876" x2="3071" y2="876"/>
<line x1="3006" y1="942.5" x2="3016" y2="942.5"/><line x1="3061" y1="942.5" x2="3071" y2="942.5"/>
</g>
<g font-size="52">
<text x="3090" y="496">1.00</text><text x="3090" y="627">0.75</text><text x="3090" y="758">0.50</text><text x="3090" y="891">0.25</text><text x="3090" y="1022">0</text>
</g>
<text transform="translate(3262,730) rotate(-90)" font-size="52" text-anchor="middle" class="i">S</text>
</svg>
</body></html>
